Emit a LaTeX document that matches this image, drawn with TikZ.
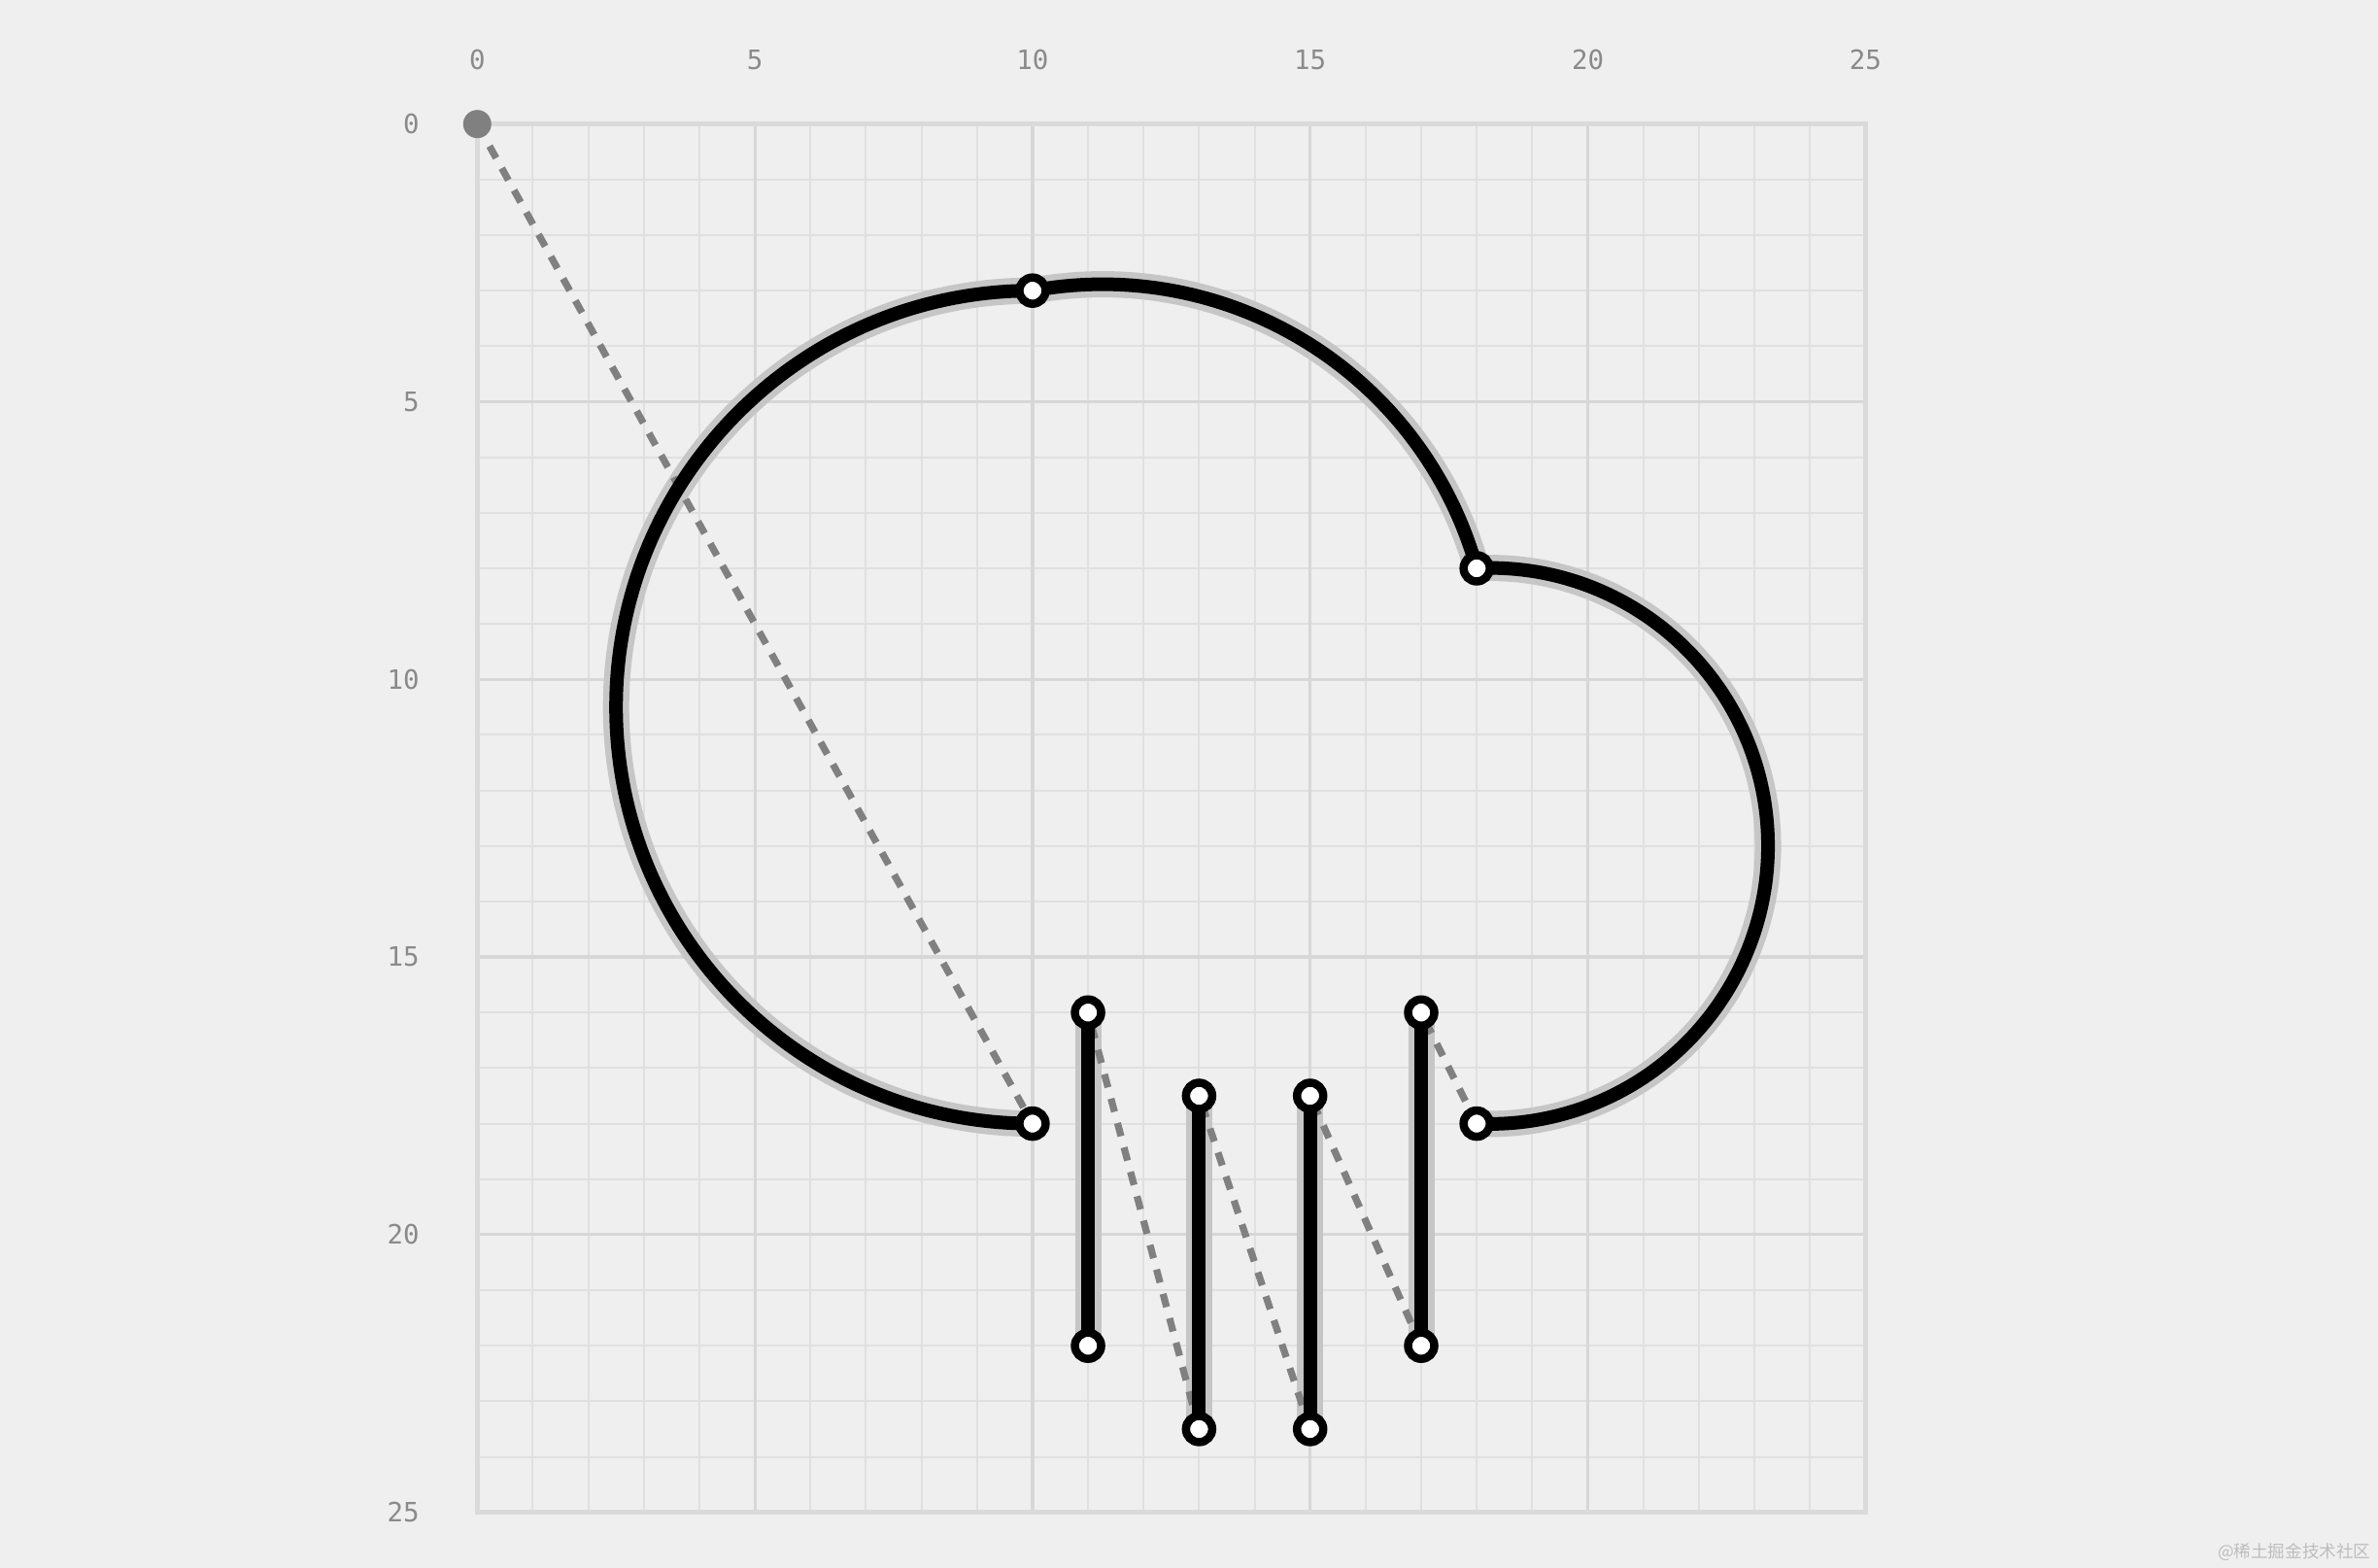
\documentclass[tikz,border=0pt]{standalone}
\usepackage{fontspec}
\newfontfamily\axisfont{DejaVu Sans Mono}
\newfontfamily\cjkfont{Noto Sans CJK SC}
\definecolor{bgc}{HTML}{EFEFEF}
\definecolor{minorc}{HTML}{E0E0E0}
\definecolor{majorc}{HTML}{D7D7D7}
\definecolor{borderc}{HTML}{DADADA}
\definecolor{labelc}{HTML}{8A8A8A}
\definecolor{haloc}{HTML}{C6C6C6}
\definecolor{dashc}{HTML}{808080}
\definecolor{wmc}{HTML}{BDBDBD}
\tikzset{
  minorline/.style={draw=minorc, line width=0.02cm},
  majorline/.style={draw=majorc, line width=0.032cm},
  borderline/.style={draw=borderc, line width=0.05cm},
  axislabel/.style={text=labelc, font=\axisfont\fontsize{7.8}{9}\selectfont, inner sep=0pt},
  moveline/.style={draw=dashc, line width=0.072cm, dash pattern=on 0.14cm off 0.12cm},
  haloline/.style={draw=haloc, line width=0.27cm},
  inkline/.style={draw=black, line width=0.14cm},
  ptnode/.style={circle, draw=black, fill=white, line width=0.085cm, minimum size=0.27cm, inner sep=0pt},
  originnode/.style={circle, fill=dashc, minimum size=0.29cm, inner sep=0pt},
}
\begin{document}
\begin{tikzpicture}[x=0.5716cm, y=-0.5716cm]
\useasboundingbox (-4.913cm,1.277cm) rectangle (19.567cm,-14.863cm);
\fill[bgc] (-4.913cm,1.277cm) rectangle (19.567cm,-14.863cm);
% grid
\foreach \i in {1,2,3,4,6,7,8,9,11,12,13,14,16,17,18,19,21,22,23,24}{
  \draw[minorline] (\i,0) -- (\i,25);
  \draw[minorline] (0,\i) -- (25,\i);
}
\foreach \i in {5,10,15,20}{
  \draw[majorline] (\i,0) -- (\i,25);
  \draw[majorline] (0,\i) -- (25,\i);
}
\draw[borderline] (0,0) rectangle (25,25);
% axis labels
\foreach \i in {0,5,10,15,20,25}{
  \node[axislabel] (top\i) at (\i,-1.16) {\i};
  \node[axislabel, anchor=east] (left\i) at (-1.03,\i) {\i};
}
% points
\coordinate (O) at (0,0);
\coordinate (A) at (10,18);
\coordinate (T) at (10,3);
\coordinate (M) at (18,8);
\coordinate (F) at (18,18);
\coordinate (B1) at (17,16);
\coordinate (B2) at (17,22);
\coordinate (C1) at (15,17.5);
\coordinate (C2) at (15,23.5);
\coordinate (D1) at (13,17.5);
\coordinate (D2) at (13,23.5);
\coordinate (E1) at (11,16);
\coordinate (E2) at (11,22);
% halo
\draw[haloline] (A) arc[start angle=90, end angle=270, radius=7.5]
  arc[start angle=-100.37, end angle=-15.63, radius=7]
  arc[start angle=-92.75, end angle=92.75, radius=5.006];
\draw[haloline] (B1) -- (B2);
\draw[haloline] (C1) -- (C2);
\draw[haloline] (D1) -- (D2);
\draw[haloline] (E1) -- (E2);
% moves
\draw[moveline] (O) -- (A);
\draw[moveline] (F) -- (B1);
\draw[moveline] (B2) -- (C1);
\draw[moveline] (C2) -- (D1);
\draw[moveline] (D2) -- (E1);
% ink
\draw[inkline] (A) arc[start angle=90, end angle=270, radius=7.5]
  arc[start angle=-100.37, end angle=-15.63, radius=7]
  arc[start angle=-92.75, end angle=92.75, radius=5.006];
\draw[inkline] (B1) -- (B2);
\draw[inkline] (C1) -- (C2);
\draw[inkline] (D1) -- (D2);
\draw[inkline] (E1) -- (E2);
% markers
\node[originnode] (nO) at (O) {};
\foreach \p in {A,T,M,F,B1,B2,C1,C2,D1,D2,E1,E2}{
  \node[ptnode] (n\p) at (\p) {};
}
% watermark
\node[anchor=east, text=wmc, font=\cjkfont\fontsize{5}{6}\selectfont, inner sep=0pt] (wm) at (19.497cm,-14.703cm) {@稀土掘金技术社区};
\end{tikzpicture}
\end{document}
